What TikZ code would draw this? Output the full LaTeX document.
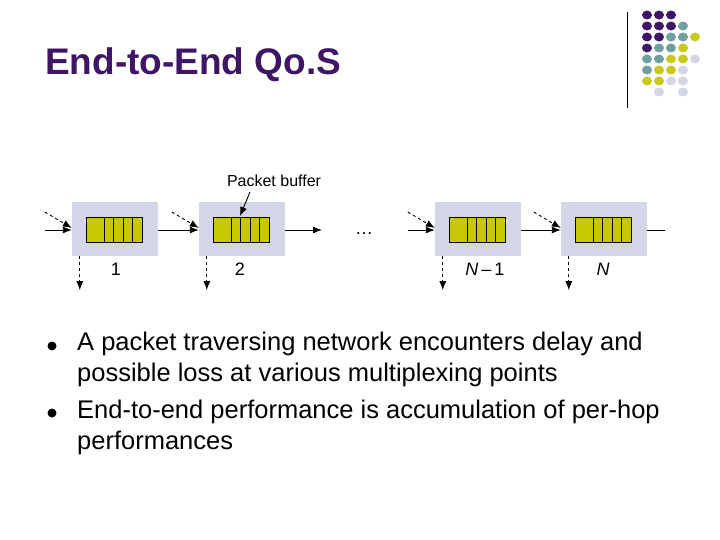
\documentclass[tikz,border=0pt]{standalone}
\usepackage{fontspec}
\setmainfont{Liberation Sans}
\usetikzlibrary{arrows.meta,calc}
\definecolor{tp}{HTML}{3F1565}
\definecolor{tt}{HTML}{6F9FA0}
\definecolor{ty}{HTML}{C8C820}
\definecolor{tl}{HTML}{D5D5E8}
\definecolor{boxbg}{HTML}{D4D6E8}
\definecolor{buf}{HTML}{C8C800}
\begin{document}
\begin{tikzpicture}[x=1pt,y=-1pt,
  router/.style={fill=boxbg,draw=none,minimum width=86pt,minimum height=54pt,inner sep=0pt},
  arr/.style={-{Latex[length=9pt,width=7pt]},line width=0.9pt},
  darr/.style={-{Latex[length=9pt,width=7pt]},dashed,line width=0.9pt},
  lbl/.style={font=\fontsize{18}{20}\selectfont,inner sep=0pt},
  btxt/.style={font=\fontsize{25.5}{30}\selectfont,anchor=west,inner sep=0pt}]
\useasboundingbox (0,0) rectangle (720,540);
\fill[white] (0,0) rectangle (720,540);
\node[anchor=west,text=tp,font=\bfseries\fontsize{37}{40}\selectfont,inner sep=0pt] (title) at (45,65) {End-to-End Qo.S};
\draw[line width=0.8pt] (627,12) -- (627,108);
% dots
\foreach \row/\y in {{tp,tp,tp}/15,{tp,tp,tp,tt}/26,{tp,tp,tt,tt,ty}/37,{tp,tt,tt,ty}/48,{tt,tt,ty,ty,tl}/59,{tt,ty,ty,tl}/70,{ty,ty,tl,tl}/81}{
  \foreach \c [count=\i] in \row { \fill[\c] ({647+12*(\i-1)},\y) ellipse (5pt and 4.5pt); }
}
\fill[tl] (659,92) ellipse (5pt and 4.5pt);
\fill[tl] (683,92) ellipse (5pt and 4.5pt);
% routers
\foreach \n/\x in {r1/115,r2/242,r3/478,r4/604}{
  \node[router] (\n) at (\x,229) {};
  \fill[buf,draw=black,line width=0.8pt] (\x-29,217) rectangle (\x+27,242);
  \draw[line width=0.8pt] (\x-11,217) -- (\x-11,242) (\x-1.5,217) -- (\x-1.5,242) (\x+8,217) -- (\x+8,242) (\x+17.5,217) -- (\x+17.5,242);
}
\coordinate (in1) at (45,230);
\coordinate (o2) at (322,230);
\coordinate (in3) at (408,230);
\coordinate (o4) at (665,230);
\node[lbl] (dots) at (364,234) {\dots};
\draw[arr] (in1) -- (r1.west|-in1);
\draw[arr] (r1.east|-in1) -- (r2.west|-in1);
\draw[arr] (r2.east|-in1) -- (o2);
\draw[arr] (in3) -- (r3.west|-in1);
\draw[arr] (r3.east|-in1) -- (r4.west|-in1);
\draw[line width=0.9pt] (r4.east|-in1) -- (o4);
\foreach \n in {r1,r2,r3,r4}{
  \draw[darr] ($(\n.west)+(-27,-17)$) -- ($(\n.west)+(0,-1)$);
  \draw[darr] ($(\n.south west)+(8,0)$) -- ++(0,34);
}
\node[lbl] (l1) at (116,269) {1};
\node[lbl] (l2) at (240,269) {2};
\node[lbl] (l3) at (485,269) {\textit{N}\,–\,1};
\node[lbl] (l4) at (603,269) {\textit{N}};
\node[font=\fontsize{16}{18}\selectfont,inner sep=0pt] (pb) at (274,181) {Packet buffer};
\draw[arr] (250,192) -- (240,216);
% bullets
\fill (52,346) circle (4.5pt);
\fill (52,413) circle (4.5pt);
\node[btxt] (b1) at (77,344) {A packet traversing network encounters delay and};
\node[btxt] (b1b) at (77,375) {possible loss at various multiplexing points};
\node[btxt] (b2) at (77,412) {End-to-end performance is accumulation of per-hop};
\node[btxt] (b2b) at (77,443) {performances};
\end{tikzpicture}
\end{document}
